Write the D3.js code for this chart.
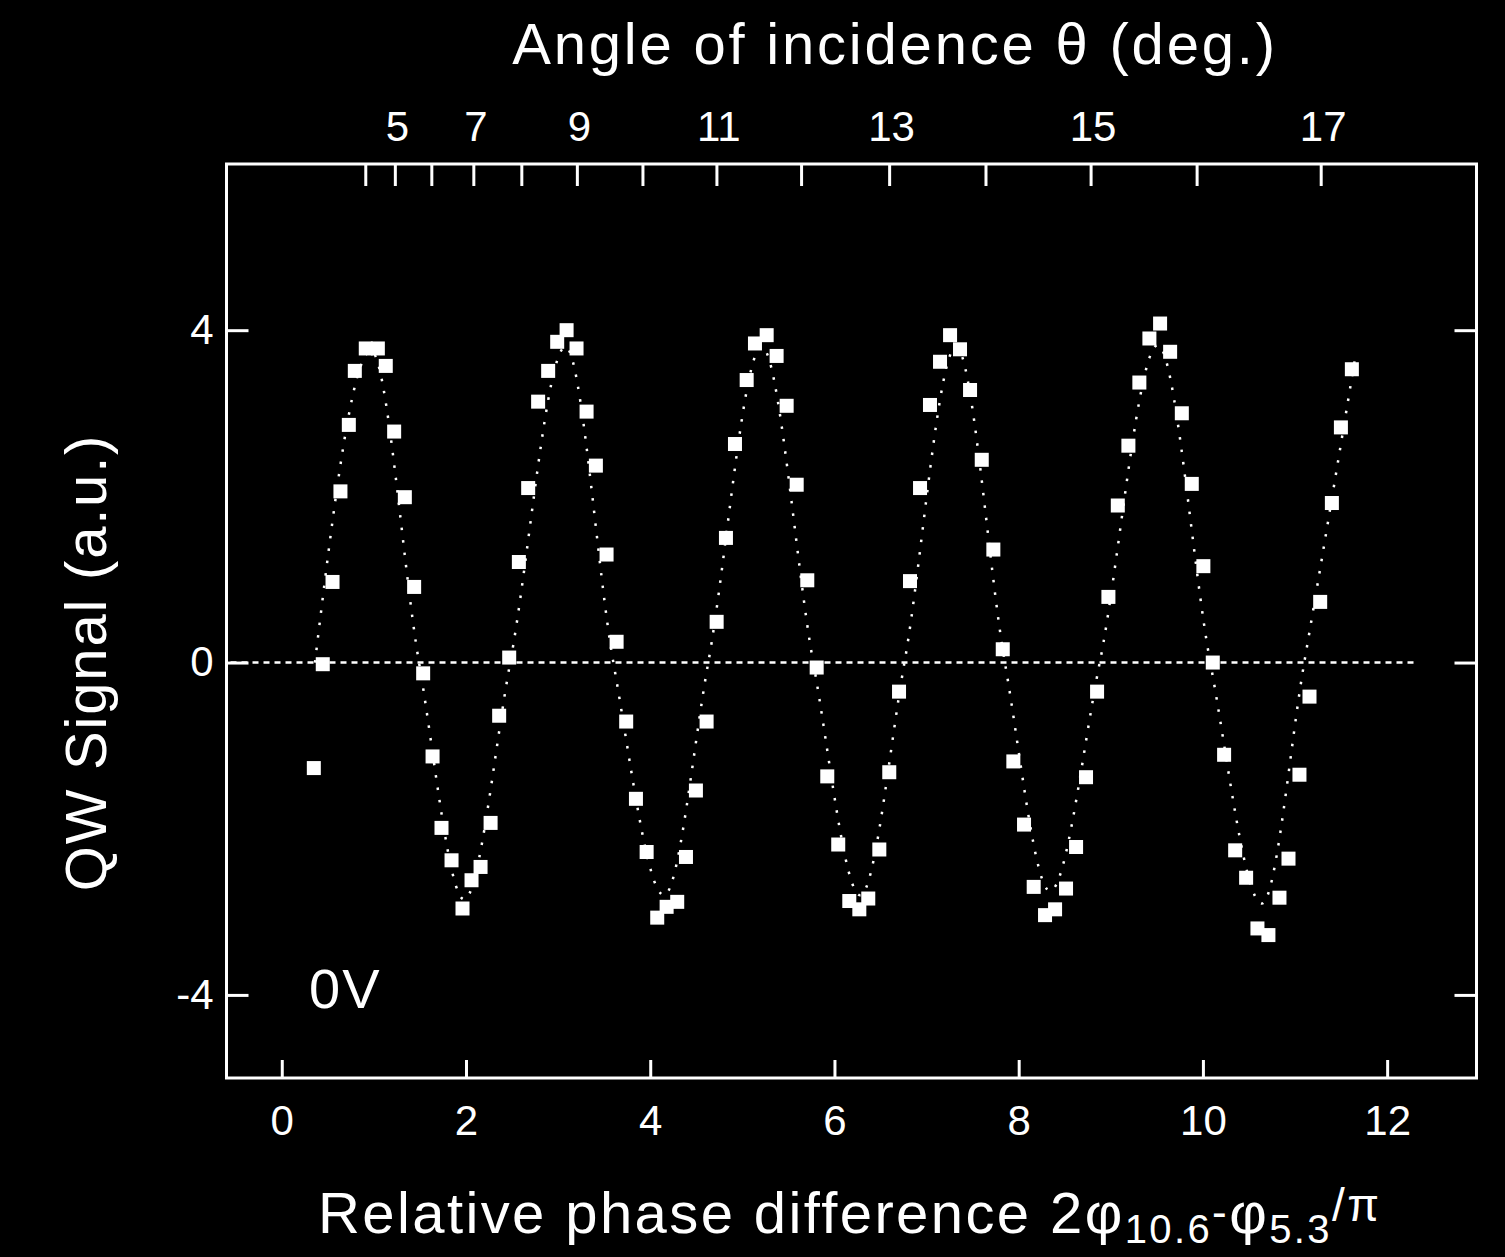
<!DOCTYPE html>
<html>
<head>
<meta charset="utf-8">
<script src="https://cdn.jsdelivr.net/npm/d3@7"></script>
<style>
  html, body { margin: 0; padding: 0; background: #000; }
  svg { display: block; }
  text { font-family: "Liberation Sans", Arial, Helvetica, sans-serif; fill: #fff; }
</style>
</head>
<body>
<svg id="chart" width="1505" height="1257"></svg>
<script>
// Measured QW signal vs. relative phase difference (2φ10.6 − φ5.3)/π, bias 0 V
const phase = [
  0.348, 0.445, 0.551, 0.637, 0.728, 0.793, 0.912, 1.043, 1.129, 1.220,
  1.336, 1.437, 1.535, 1.637, 1.734, 1.843, 1.962, 2.060, 2.158, 2.267,
  2.360, 2.469, 2.574, 2.675, 2.783, 2.892, 2.990, 3.092, 3.200, 3.309,
  3.410, 3.526, 3.635, 3.739, 3.845, 3.961, 4.076, 4.178, 4.293, 4.388,
  4.496, 4.612, 4.721, 4.822, 4.920, 5.047, 5.137, 5.264, 5.372, 5.481,
  5.590, 5.705, 5.807, 5.922, 6.041, 6.161, 6.270, 6.367, 6.487, 6.595,
  6.701, 6.820, 6.929, 7.037, 7.146, 7.255, 7.363, 7.472, 7.599, 7.725,
  7.827, 7.942, 8.058, 8.163, 8.286, 8.395, 8.514, 8.623, 8.731, 8.851,
  8.974, 9.076, 9.191, 9.310, 9.419, 9.535, 9.644, 9.771, 9.879, 10.005,
  10.107, 10.230, 10.350, 10.469, 10.592, 10.711, 10.831, 10.929, 11.048, 11.157,
  11.273, 11.400, 11.498, 11.617
];
const signal = [
  -1.27, -0.02, 0.97, 2.06, 2.86, 3.51, 3.78, 3.78, 3.57, 2.78,
  1.99, 0.91, -0.13, -1.13, -1.99, -2.38, -2.96, -2.62, -2.46, -1.93,
  -0.64, 0.06, 1.21, 2.10, 3.14, 3.51, 3.86, 4.00, 3.78, 3.02,
  2.37, 1.30, 0.25, -0.71, -1.64, -2.28, -3.07, -2.94, -2.88, -2.34,
  -1.54, -0.71, 0.49, 1.50, 2.63, 3.40, 3.84, 3.94, 3.69, 3.09,
  2.14, 0.99, -0.06, -1.37, -2.19, -2.87, -2.97, -2.84, -2.25, -1.32,
  -0.35, 0.98, 2.10, 3.10, 3.62, 3.94, 3.77, 3.28, 2.44, 1.36,
  0.16, -1.19, -1.95, -2.70, -3.04, -2.97, -2.72, -2.22, -1.38, -0.35,
  0.79, 1.89, 2.61, 3.37, 3.90, 4.08, 3.74, 3.00, 2.15, 1.16,
  0.00, -1.11, -2.26, -2.59, -3.20, -3.28, -2.83, -2.36, -1.35, -0.41,
  0.73, 1.92, 2.83, 3.53
];

// Dotted guide curve: its zero crossings and extrema (phase, signal)
const fitPhase = [
  0.36, 0.97, 1.49, 1.98, 2.48, 3.08, 3.60, 4.15, 4.63, 5.21, 5.77,
  6.28, 6.76, 7.32, 7.85, 8.34, 8.88, 9.51, 10.08, 10.64, 11.10, 11.66
];
const fitSignal = [
  0.0, 3.75, 0.0, -2.85, 0.0, 3.8, 0.0, -2.8, 0.0, 3.8, 0.0,
  -2.8, 0.0, 3.8, 0.0, -2.75, 0.0, 3.82, 0.0, -2.9, 0.0, 3.72
];

// Axis ticks
const xTicks = [0, 2, 4, 6, 8, 10, 12];
const yTicks = [-4, 0, 4];
// Angle of incidence (deg.) and where each angle falls on the phase axis
const angleDeg   = [4, 5, 6, 7, 8, 9, 10, 11, 12, 13, 14, 15, 16, 17];
const anglePhase = [0.912, 1.233, 1.629, 2.085, 2.606, 3.209, 3.921, 4.724,
                    5.643, 6.599, 7.645, 8.786, 9.937, 11.284];
const angleLabels = [5, 7, 9, 11, 13, 15, 17];

const zeroLineEnd = 12.33;
const biasLabel = "0V";

const svg = d3.select("#chart");
const W = 1505, H = 1257;
const plot = { left: 226.5, right: 1476.5, top: 164, bottom: 1078 };
const font = "'Liberation Sans', Arial, Helvetica, sans-serif";
const tickFont = 42;
const titleFont = 58;

svg.append("rect").attr("width", W).attr("height", H).attr("fill", "#000");

const x = d3.scaleLinear().domain([-0.6, 12.97]).range([plot.left, plot.right]);
const y = d3.scaleLinear().domain([-5, 6]).range([plot.bottom, plot.top]);

const white = "#fff";

// Frame
svg.append("rect")
  .attr("x", plot.left).attr("y", plot.top)
  .attr("width", plot.right - plot.left).attr("height", plot.bottom - plot.top)
  .attr("fill", "none").attr("stroke", white).attr("stroke-width", 3);

// Bottom axis (ticks pointing inward)
const xAxis = d3.axisBottom(x).tickValues(xTicks).tickSizeInner(-18).tickSizeOuter(0).tickPadding(27);
const gx = svg.append("g").attr("transform", `translate(0,${plot.bottom})`).call(xAxis);
gx.select(".domain").remove();
gx.selectAll(".tick line").attr("stroke", white).attr("stroke-width", 3);
gx.selectAll(".tick text").attr("font-size", tickFont).attr("fill", white).attr("dy", "0.71em")
  .attr("font-family", font);

// Left axis, with a plain hyphen for negative labels
const yAxis = d3.axisLeft(y).tickValues(yTicks).tickSizeInner(-22).tickSizeOuter(0).tickPadding(13)
  .tickFormat(d => String(d));
const gy = svg.append("g").attr("transform", `translate(${plot.left},0)`).call(yAxis);
gy.select(".domain").remove();
gy.selectAll(".tick line").attr("stroke", white).attr("stroke-width", 3);
gy.selectAll(".tick text").attr("font-size", tickFont).attr("fill", white)
  .attr("font-family", font);

// Right axis (ticks only)
const yAxisR = d3.axisRight(y).tickValues(yTicks).tickSizeInner(-22).tickSizeOuter(0).tickFormat("");
const gyr = svg.append("g").attr("transform", `translate(${plot.right},0)`).call(yAxisR);
gyr.select(".domain").remove();
gyr.selectAll(".tick line").attr("stroke", white).attr("stroke-width", 3);

// Top axis: angle of incidence
const gt = svg.append("g");
gt.selectAll("line").data(angleDeg).join("line")
  .attr("x1", (d, i) => x(anglePhase[i])).attr("x2", (d, i) => x(anglePhase[i]))
  .attr("y1", plot.top).attr("y2", plot.top + 22)
  .attr("stroke", white).attr("stroke-width", 3);
gt.selectAll("text").data(angleLabels).join("text")
  .attr("x", d => x(anglePhase[angleDeg.indexOf(d)]) + 2)
  .attr("y", 141)
  .attr("text-anchor", "middle")
  .attr("font-size", tickFont)
  .text(d => d);

// Zero reference line
svg.append("line")
  .attr("x1", plot.left + 4).attr("x2", x(zeroLineEnd))
  .attr("y1", y(0)).attr("y2", y(0))
  .attr("stroke", white).attr("stroke-width", 2.5)
  .attr("stroke-dasharray", "6 5");

// Dotted guide curve
const line = d3.line().x((d, i) => x(fitPhase[i])).y(d => y(d)).curve(d3.curveMonotoneX);
svg.append("path")
  .attr("d", line(fitSignal))
  .attr("fill", "none").attr("stroke", white).attr("stroke-width", 2.5)
  .attr("stroke-dasharray", "2.5 10");

// Data points
const sz = 14;
svg.append("g").selectAll("rect").data(signal).join("rect")
  .attr("x", (d, i) => x(phase[i]) - sz / 2)
  .attr("y", d => y(d) - sz / 2)
  .attr("width", sz).attr("height", sz)
  .attr("fill", white);

// Bias label
svg.append("text").attr("x", 309).attr("y", 1008).attr("font-size", 56)
  .attr("letter-spacing", 2).text(biasLabel);

// Axis titles
svg.append("text").attr("x", 895).attr("y", 64).attr("text-anchor", "middle")
  .attr("font-size", titleFont).attr("letter-spacing", 2.8)
  .text("Angle of incidence θ (deg.)");

svg.append("text")
  .attr("transform", `translate(106,${y(0)}) rotate(-90)`)
  .attr("text-anchor", "middle").attr("font-size", titleFont)
  .attr("letter-spacing", 1.8)
  .text("QW Signal (a.u.)");

const xt = svg.append("text").attr("x", 318).attr("y", 1233)
  .attr("font-size", titleFont).attr("letter-spacing", 2.4);
xt.append("tspan").text("Relative phase difference 2φ");
xt.append("tspan").attr("font-size", 40).attr("dy", 10).text("10.6");
xt.append("tspan").attr("dy", -16).attr("font-size", 44).text("-");
xt.append("tspan").attr("dy", 6).text("φ");
xt.append("tspan").attr("font-size", 40).attr("dy", 10).text("5.3");
xt.append("tspan").attr("dy", -22).attr("font-size", 46).text("/π");
</script>
</body>
</html>
